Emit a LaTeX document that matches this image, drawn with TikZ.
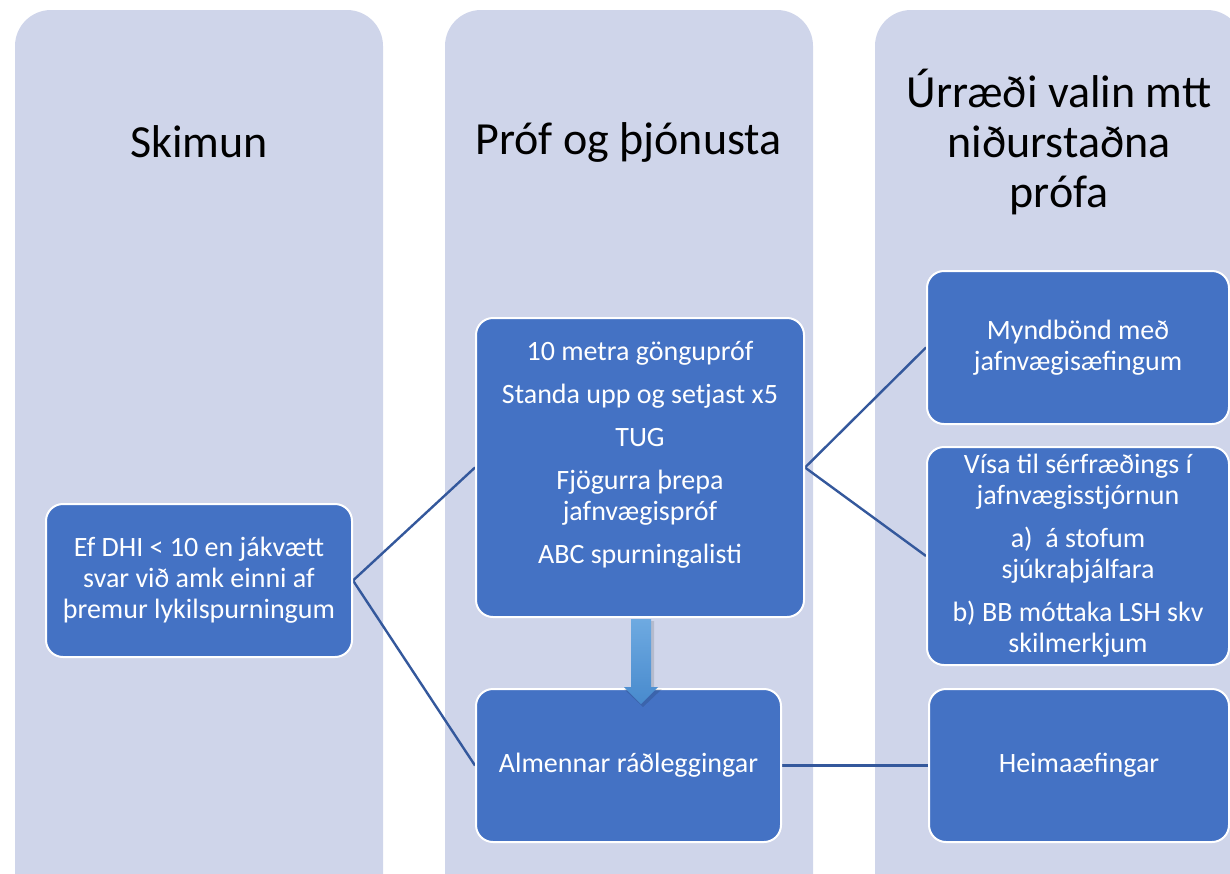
\documentclass[tikz,border=0pt]{standalone}
\usepackage{fontspec}
\setmainfont{Carlito}
\usetikzlibrary{calc}
\definecolor{colbg}{RGB}{207,213,234}
\definecolor{boxblue}{RGB}{68,114,196}
\definecolor{linkblue}{RGB}{52,88,156}
\definecolor{arrtop}{RGB}{110,170,225}
\definecolor{arrbot}{RGB}{72,138,205}
\pgfdeclarelayer{bg}
\pgfdeclarelayer{links}
\pgfsetlayers{bg,links,main}
\begin{document}
\begin{tikzpicture}[x=1pt,y=-1pt,
  col/.style={fill=colbg, rounded corners=36pt},
  box/.style={draw=white, line width=2pt, fill=boxblue, rounded corners=17pt, inner sep=0pt},
  txt/.style={text=white, font=\fontsize{28}{31}\selectfont, align=center, inner sep=0pt},
  title/.style={text=black, font=\fontsize{46}{50}\selectfont, align=center, inner sep=0pt},
  link/.style={draw=linkblue, line width=2.4pt}]
\useasboundingbox (0,0) rectangle (1230,873);
\clip (0,0) rectangle (1230,873);
\begin{pgfonlayer}{bg}
  \fill[col] (15,10) rectangle (383,930);
  \fill[col] (445,10) rectangle (813,930);
  \fill[col] (875,10) rectangle (1243,930);
\end{pgfonlayer}

% titles
\node[title] (t1) at (199,142) {Skimun};
\node[title] (t2) at (628.5,142) {Próf og þjónusta};
\node[title] (t3) at (1059,142) {Úrræði valin mtt\\niðurstaðna\\prófa};

% boxes
\node[box, minimum width=306pt, minimum height=153pt] (b1) at (199,580.5) {};
\node[box, minimum width=328pt, minimum height=299pt] (b2) at (640,467.5) {};
\node[box, minimum width=305pt, minimum height=153pt] (b3) at (628.5,765.5) {};
\node[box, minimum width=302pt, minimum height=153pt] (b4) at (1078,347.5) {};
\node[box, minimum width=302pt, minimum height=218pt] (b5) at (1078,556) {};
\node[box, minimum width=300pt, minimum height=153pt] (b6) at (1079,765.5) {};

% texts
\node[txt] (x1) at (b1.center) {Ef DHI < 10 en jákvætt\\svar við amk einni af\\þremur lykilspurningum};
\node[txt] (x2) at (640,455) {10 metra göngupróf\\[12pt]Standa upp og setjast x5\\[12pt]TUG\\[12pt]Fjögurra þrepa\\jafnvægispróf\\[12pt]ABC spurningalisti};
\node[txt] (x3) at (b3.center) {Almennar ráðleggingar};
\node[txt] (x4) at (b4.center) {Myndbönd með\\jafnvægisæfingum};
\node[txt] (x5) at (b5.center) {Vísa til sérfræðings í\\jafnvægisstjórnun\\[12pt]a)\ \ á stofum\\sjúkraþjálfara\\[12pt]b) BB móttaka LSH skv\\skilmerkjum};
\node[txt] (x6) at (b6.center) {Heimaæfingar};

% connectors
\begin{pgfonlayer}{links}
  \draw[link] (b2.west) -- (b1.east) -- (b3.west);
  \draw[link] (b4.west) -- (b2.east) -- (b5.west);
  \draw[link] (b3.east) -- (b6.west);
\end{pgfonlayer}

% block arrow between b2 and b3
\coordinate (at) at ($(b2.south)+(1,1)$);
\fill[black, opacity=0.12] ($(at)+(-8,2)$) -- ($(at)+(13,2)$) -- ($(at)+(13,70)$) -- ($(at)+(21,70)$) -- ($(at)+(2,88)$) -- ($(at)+(-17,70)$) -- ($(at)+(-8,70)$) -- cycle;
\shade[top color=arrtop, bottom color=arrbot] ($(at)+(-10,0)$) -- ($(at)+(10,0)$) -- ($(at)+(10,68)$) -- ($(at)+(17,68)$) -- ($(at)+(0,85)$) -- ($(at)+(-17,68)$) -- ($(at)+(-10,68)$) -- cycle;
\end{tikzpicture}
\end{document}
